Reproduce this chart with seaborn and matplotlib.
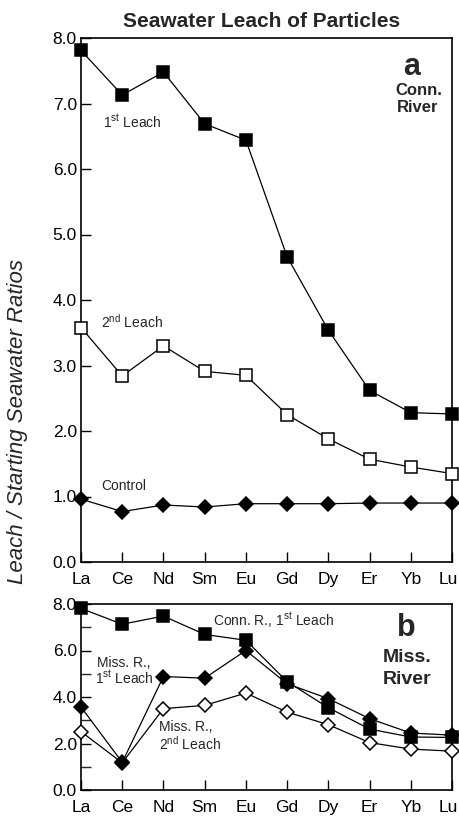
import numpy as np
import pandas as pd
import matplotlib
matplotlib.use("Agg")
import matplotlib.pyplot as plt
import matplotlib.transforms as mtransforms
import seaborn as sns
from matplotlib.ticker import MultipleLocator

# Rare earth elements along the x axis
elements = ["La", "Ce", "Nd", "Sm", "Eu", "Gd", "Dy", "Er", "Yb", "Lu"]

# Leach / starting seawater ratios
conn_leach1 = [7.81, 7.13, 7.48, 6.69, 6.44, 4.66, 3.54, 2.62, 2.28, 2.26]
conn_leach2 = [3.58, 2.84, 3.30, 2.91, 2.85, 2.25, 1.88, 1.57, 1.45, 1.35]
control = [0.96, 0.77, 0.87, 0.84, 0.89, 0.89, 0.89, 0.90, 0.90, 0.90]
miss_leach1 = [3.57, 1.19, 4.88, 4.81, 6.00, 4.57, 3.93, 3.07, 2.45, 2.36]
miss_leach2 = [2.51, 1.17, 3.50, 3.64, 4.17, 3.35, 2.81, 2.04, 1.76, 1.67]

top_yticks = [0, 1, 2, 3, 4, 5, 6, 7, 8]
bottom_yticks = [0, 2, 4, 6, 8]

sns.set_style("ticks")
plt.rcParams["font.family"] = ["Liberation Sans", "DejaVu Sans"]
plt.rcParams["mathtext.fontset"] = "custom"
plt.rcParams["mathtext.rm"] = "Liberation Sans"

W, H = 460, 817
fig = plt.figure(figsize=(W / 100, H / 100), dpi=100)
ax1 = fig.add_axes([81 / W, 1 - 562 / H, 371 / W, 524 / H])
ax2 = fig.add_axes([81 / W, 1 - 790 / H, 371 / W, 186 / H])

pos = np.arange(len(elements))


def series(ax, values, marker, face, ms):
    df = pd.DataFrame({"pos": pos, "ratio": values})
    sns.lineplot(data=df, x="pos", y="ratio", ax=ax, color="black",
                 linewidth=0.9, marker=marker, markersize=ms,
                 markerfacecolor=face, markeredgecolor="black",
                 markeredgewidth=1.1, sort=False, clip_on=False, zorder=3)


# Panel a: Connecticut River
series(ax1, control, "D", "black", 7.5)
series(ax1, conn_leach2, "s", "white", 8.5)
series(ax1, conn_leach1, "s", "black", 8.5)

# Panel b: Mississippi River vs. Connecticut River
series(ax2, miss_leach2, "D", "white", 7.5)
series(ax2, miss_leach1, "D", "black", 7.5)
series(ax2, conn_leach1, "s", "black", 8.5)

# nudge the last element label so it stays inside the figure
nudge = mtransforms.ScaledTranslation(-4 / 100, 0, fig.dpi_scale_trans)

for ax, yt in ((ax1, top_yticks), (ax2, bottom_yticks)):
    ax.set_xlim(0, len(elements) - 1)
    ax.set_ylim(0, 8)
    ax.set_xticks(pos)
    ax.set_xticklabels(elements)
    ax.set_yticks(yt)
    ax.set_yticklabels([f"{v:.1f}" for v in yt])
    ax.set_xlabel("")
    ax.set_ylabel("")
    ax.tick_params(direction="in", length=7, width=1.0, labelsize=12.5,
                   colors="black")
    ax.tick_params(axis="x", pad=7)
    ax.tick_params(axis="y", pad=3)
    for sp in ax.spines.values():
        sp.set_visible(True)
        sp.set_linewidth(1.2)
        sp.set_color("black")
    last = ax.xaxis.get_major_ticks()[-1].label1
    last.set_transform(last.get_transform() + nudge)

ax2.yaxis.set_minor_locator(MultipleLocator(1))
ax2.tick_params(axis="y", which="minor", direction="in", length=7, width=1.0)


def fx(px):
    return px / W


def fy(py):
    return 1 - py / H


fig.text(fx(262), fy(27), "Seawater Leach of Particles", ha="center",
         va="baseline", fontsize=15, fontweight="bold")
fig.text(fx(18), fy(422), "Leach / Starting Seawater Ratios", rotation=90,
         ha="center", va="center", fontsize=16, style="italic")

# Panel labels
fig.text(fx(412), fy(75), "a", ha="center", va="baseline", fontsize=22,
         fontweight="bold")
fig.text(fx(419), fy(95), "Conn.", ha="center", va="baseline", fontsize=12,
         fontweight="bold")
fig.text(fx(418), fy(112), "River", ha="center", va="baseline", fontsize=12,
         fontweight="bold")
fig.text(fx(406), fy(636), "b", ha="center", va="baseline", fontsize=22,
         fontweight="bold")
fig.text(fx(407), fy(662), "Miss.", ha="center", va="baseline", fontsize=14,
         fontweight="bold")
fig.text(fx(407), fy(684), "River", ha="center", va="baseline", fontsize=14,
         fontweight="bold")

# Series annotations
ann = dict(va="baseline", fontsize=10)
fig.text(fx(103), fy(127), r"1$^{\mathregular{st}}$ Leach", ha="left", **ann)
fig.text(fx(101), fy(328), r"2$^{\mathregular{nd}}$ Leach", ha="left", **ann)
fig.text(fx(101), fy(490), "Control", ha="left", **ann)
fig.text(fx(213), fy(626), r"Conn. R., 1$^{\mathregular{st}}$ Leach",
         ha="left", **ann)
fig.text(fx(124), fy(667), "Miss. R.,", ha="center", **ann)
fig.text(fx(124), fy(684), r"1$^{\mathregular{st}}$ Leach", ha="center", **ann)
fig.text(fx(159), fy(731), "Miss. R.,", ha="left", **ann)
fig.text(fx(159), fy(750), r"2$^{\mathregular{nd}}$ Leach", ha="left", **ann)

fig.savefig("out.png", dpi=100, facecolor="white")
